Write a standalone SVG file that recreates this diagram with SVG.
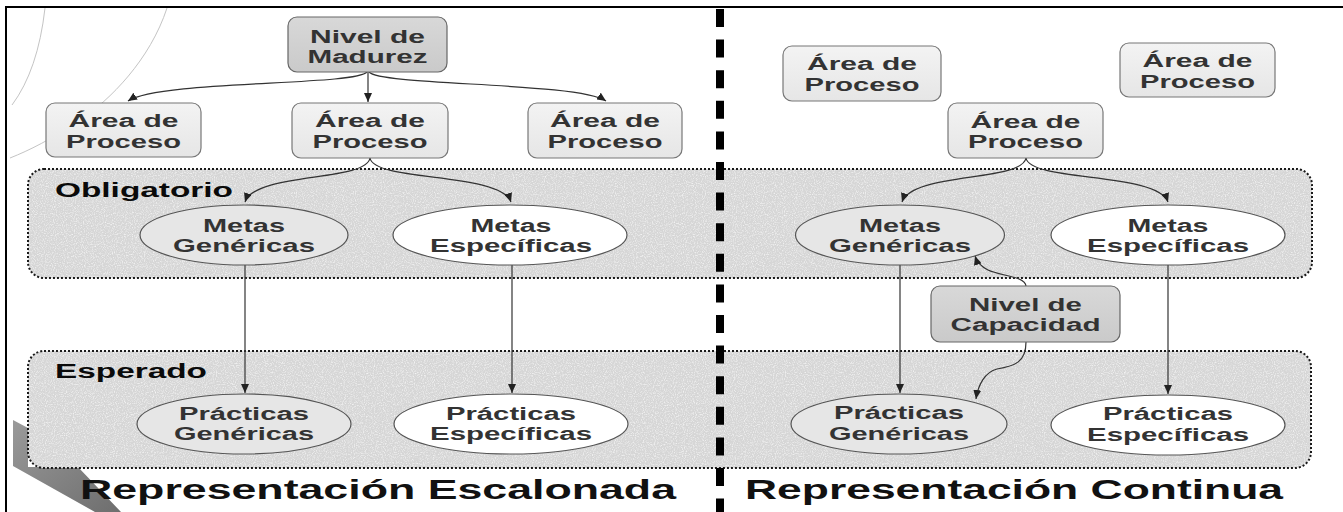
<svg xmlns="http://www.w3.org/2000/svg" width="1343" height="512" viewBox="0 0 1343 512">
<defs>
<marker id="arr" markerUnits="userSpaceOnUse" markerWidth="10" markerHeight="8" refX="9" refY="4" orient="auto"><path d="M0,0 L9,4 L0,8 z" fill="#222"/></marker>
<linearGradient id="gArea" x1="0" y1="0" x2="0" y2="1"><stop offset="0" stop-color="#f3f3f3"/><stop offset="1" stop-color="#e6e6e6"/></linearGradient>
<linearGradient id="gNivel" x1="0" y1="0" x2="0" y2="1"><stop offset="0" stop-color="#d8d8d8"/><stop offset="1" stop-color="#cacaca"/></linearGradient>
<linearGradient id="gSwoosh" x1="0" y1="0" x2="1" y2="1"><stop offset="0" stop-color="#9a9a9a"/><stop offset="1" stop-color="#6e6e6e"/></linearGradient>
<filter id="speckle" x="0" y="0" width="1" height="1">
<feTurbulence type="fractalNoise" baseFrequency="0.9" numOctaves="2" seed="3" result="n"/>
<feColorMatrix in="n" type="matrix" values="0 0 0 0 0.96 0 0 0 0 0.96 0 0 0 0 0.96 1.8 0 0 0 -0.8" result="w"/>
<feComposite in="w" in2="SourceGraphic" operator="in" result="wc"/>
<feMerge><feMergeNode in="SourceGraphic"/><feMergeNode in="wc"/></feMerge>
</filter>
</defs>
<style>
.bg{fill:none;stroke:#c4c4c4;stroke-width:1}
.regfill{fill:#d6d6d6}
.regline{fill:none;stroke:#1a1a1a;stroke-width:2;stroke-dasharray:2 2}
.area rect{fill:url(#gArea);stroke:#777;stroke-width:1.2}
.nivel rect{fill:url(#gNivel);stroke:#666;stroke-width:1.2}
.gen ellipse{fill:#e6e6e6;stroke:#555;stroke-width:1.2}
.esp ellipse{fill:#ffffff;stroke:#555;stroke-width:1.2}
text{font-family:"Liberation Sans",Arial,sans-serif}
.t{font-size:18px;font-weight:bold;fill:#333;text-anchor:middle}
.lbl{font-size:20px;font-weight:bold;fill:#0a0a0a}
.title{font-size:28px;font-weight:bold;fill:#111}
.conn path{fill:none;stroke:#333;stroke-width:1.2;marker-end:url(#arr)}
.frame{fill:none;stroke:#000;stroke-width:2}
.divider{fill:none;stroke:#000;stroke-width:8;stroke-dasharray:18 12.6}
</style>
<rect x="0" y="0" width="1343" height="512" fill="#ffffff"/>
<g id="decor">
<path class="bg" d="M45,8 Q38,70 12,105"/>
<path class="bg" d="M167,8 C150,60 110,100 80,120 C50,140 30,150 10,158"/>
<polygon points="13,420 28,428 28,467 78,467 121,512 95,512 13,466" fill="url(#gSwoosh)"/>
</g>
<g id="frame">
<path class="frame" d="M6,512 L6,7 L1343,7"/>
</g>
<g id="region-obligatorio">
<rect class="regfill" filter="url(#speckle)" x="28" y="169" width="1284" height="109" rx="16"/>
<rect class="regline" x="28" y="169" width="1284" height="109" rx="16"/>
<text class="lbl" x="55" y="197" textLength="178" lengthAdjust="spacingAndGlyphs">Obligatorio</text>
</g>
<g id="region-esperado">
<rect class="regfill" filter="url(#speckle)" x="28" y="351" width="1283" height="117" rx="16"/>
<rect class="regline" x="28" y="351" width="1283" height="117" rx="16"/>
<text class="lbl" x="55" y="378" textLength="152" lengthAdjust="spacingAndGlyphs">Esperado</text>
</g>
<g id="connectors" class="conn">
<path d="M367,72 C355,86 160,80 128,101"/>
<path d="M368,72 L368,102"/>
<path d="M369,72 C381,86 578,82 606,101"/>
<path d="M370,158 C366,182 255,172 245,202"/>
<path d="M370,158 C374,182 501,172 511,202"/>
<path d="M245,265 L245,393"/>
<path d="M512,265 L512,393"/>
<path d="M1026,158 C1022,182 912,172 902,202"/>
<path d="M1026,158 C1030,182 1158,172 1168,202"/>
<path d="M900,265 L900,393"/>
<path d="M1168,265 L1168,394"/>
<path d="M1026,286 C1025,276 1000,276 988,270 C980,266 977,262 975,256"/>
<path d="M1026,342 C1026,362 1015,366 997,369 C985,372 978,385 976,399"/>
</g>
<g id="nivel-madurez" class="nivel">
<rect x="288" y="17" width="159" height="55" rx="9"/>
<text class="t" x="367.5" y="43" textLength="115" lengthAdjust="spacingAndGlyphs">Nivel de</text>
<text class="t" x="367.5" y="63" textLength="120" lengthAdjust="spacingAndGlyphs">Madurez</text>
</g>
<g id="area-l1" class="area">
<rect x="46" y="103" width="155" height="54" rx="9"/>
<text class="t" x="123.5" y="127" textLength="110" lengthAdjust="spacingAndGlyphs">Área de</text>
<text class="t" x="123.5" y="148" textLength="115" lengthAdjust="spacingAndGlyphs">Proceso</text>
</g>
<g id="area-l2" class="area">
<rect x="292" y="103" width="156" height="55" rx="9"/>
<text class="t" x="370" y="127" textLength="110" lengthAdjust="spacingAndGlyphs">Área de</text>
<text class="t" x="370" y="148" textLength="115" lengthAdjust="spacingAndGlyphs">Proceso</text>
</g>
<g id="area-l3" class="area">
<rect x="528" y="103" width="154" height="55" rx="9"/>
<text class="t" x="605" y="127" textLength="110" lengthAdjust="spacingAndGlyphs">Área de</text>
<text class="t" x="605" y="148" textLength="115" lengthAdjust="spacingAndGlyphs">Proceso</text>
</g>
<g id="metas-gen-l" class="gen">
<ellipse cx="244" cy="235" rx="104" ry="30"/>
<text class="t" x="244" y="232" textLength="82" lengthAdjust="spacingAndGlyphs">Metas</text>
<text class="t" x="244" y="252" textLength="142" lengthAdjust="spacingAndGlyphs">Genéricas</text>
</g>
<g id="metas-esp-l" class="esp">
<ellipse cx="510" cy="235" rx="117" ry="30"/>
<text class="t" x="511" y="232" textLength="81" lengthAdjust="spacingAndGlyphs">Metas</text>
<text class="t" x="511" y="252" textLength="162" lengthAdjust="spacingAndGlyphs">Específicas</text>
</g>
<g id="pract-gen-l" class="gen">
<ellipse cx="244" cy="424" rx="107" ry="30"/>
<text class="t" x="244" y="420" textLength="130" lengthAdjust="spacingAndGlyphs">Prácticas</text>
<text class="t" x="244" y="440" textLength="140" lengthAdjust="spacingAndGlyphs">Genéricas</text>
</g>
<g id="pract-esp-l" class="esp">
<ellipse cx="511" cy="424" rx="117" ry="30"/>
<text class="t" x="511" y="420" textLength="130" lengthAdjust="spacingAndGlyphs">Prácticas</text>
<text class="t" x="511" y="440" textLength="162" lengthAdjust="spacingAndGlyphs">Específicas</text>
</g>
<g id="area-r1" class="area">
<rect x="783" y="46" width="158" height="55" rx="9"/>
<text class="t" x="862" y="70" textLength="110" lengthAdjust="spacingAndGlyphs">Área de</text>
<text class="t" x="862" y="91" textLength="115" lengthAdjust="spacingAndGlyphs">Proceso</text>
</g>
<g id="area-r2" class="area">
<rect x="1120" y="43" width="155" height="54" rx="9"/>
<text class="t" x="1197.5" y="67" textLength="110" lengthAdjust="spacingAndGlyphs">Área de</text>
<text class="t" x="1197.5" y="88" textLength="115" lengthAdjust="spacingAndGlyphs">Proceso</text>
</g>
<g id="area-r3" class="area">
<rect x="948" y="103" width="155" height="55" rx="9"/>
<text class="t" x="1025.5" y="128" textLength="110" lengthAdjust="spacingAndGlyphs">Área de</text>
<text class="t" x="1025.5" y="148" textLength="115" lengthAdjust="spacingAndGlyphs">Proceso</text>
</g>
<g id="nivel-capacidad" class="nivel">
<rect x="931" y="286" width="189" height="56" rx="9"/>
<text class="t" x="1025.5" y="311" textLength="113" lengthAdjust="spacingAndGlyphs">Nivel de</text>
<text class="t" x="1025.5" y="331" textLength="150" lengthAdjust="spacingAndGlyphs">Capacidad</text>
</g>
<g id="metas-gen-r" class="gen">
<ellipse cx="900" cy="235" rx="104.5" ry="30"/>
<text class="t" x="900" y="232" textLength="82" lengthAdjust="spacingAndGlyphs">Metas</text>
<text class="t" x="900" y="252" textLength="142" lengthAdjust="spacingAndGlyphs">Genéricas</text>
</g>
<g id="metas-esp-r" class="esp">
<ellipse cx="1168" cy="235" rx="117" ry="30"/>
<text class="t" x="1168" y="232" textLength="81" lengthAdjust="spacingAndGlyphs">Metas</text>
<text class="t" x="1168" y="252" textLength="162" lengthAdjust="spacingAndGlyphs">Específicas</text>
</g>
<g id="pract-gen-r" class="gen">
<ellipse cx="899" cy="424" rx="108" ry="30"/>
<text class="t" x="899" y="419" textLength="130" lengthAdjust="spacingAndGlyphs">Prácticas</text>
<text class="t" x="899" y="440" textLength="140" lengthAdjust="spacingAndGlyphs">Genéricas</text>
</g>
<g id="pract-esp-r" class="esp">
<ellipse cx="1168" cy="425" rx="117" ry="30"/>
<text class="t" x="1168" y="420" textLength="130" lengthAdjust="spacingAndGlyphs">Prácticas</text>
<text class="t" x="1168" y="441" textLength="162" lengthAdjust="spacingAndGlyphs">Específicas</text>
</g>
<g id="divider">
<line class="divider" x1="720" y1="9" x2="720" y2="512"/>
</g>
<g id="titles">
<text class="title" x="80" y="499" textLength="596" lengthAdjust="spacingAndGlyphs">Representación Escalonada</text>
<text class="title" x="745" y="499" textLength="538" lengthAdjust="spacingAndGlyphs">Representación Continua</text>
</g>
</svg>
